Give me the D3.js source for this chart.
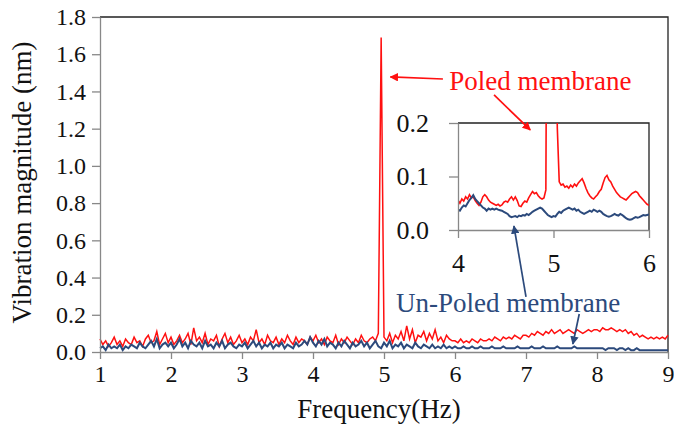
<!DOCTYPE html>
<html>
<head>
<meta charset="utf-8">
<script src="https://cdn.jsdelivr.net/npm/d3@7"></script>
<style>
  body { margin: 0; background: #fff; }
  svg text { font-family: "Liberation Serif", "Times New Roman", serif; }
</style>
</head>
<body>
<div id="chart-container"></div>
<script>
// Frequency grid of the main spectrum (Hz), 0.04 Hz steps from 1 to 9
const freqStart = 1, freqStep = 0.04;

// Poled membrane, vibration magnitude (nm), one row per Hz
const poled = [
  0.07,0.04,0.06,0.03,0.05,0.08,0.04,0.06,0.03,0.07,0.05,0.04,0.08,0.05,0.06,0.03,0.07,0.09,0.05,0.06,0.11,0.04,0.07,0.10,0.05,
  0.08,0.04,0.06,0.09,0.05,0.07,0.10,0.04,0.13,0.06,0.08,0.05,0.10,0.04,0.07,0.06,0.09,0.03,0.07,0.10,0.05,0.08,0.04,0.06,0.09,
  0.05,0.07,0.04,0.08,0.06,0.12,0.05,0.07,0.04,0.09,0.06,0.05,0.08,0.04,0.07,0.05,0.09,0.06,0.04,0.08,0.05,0.07,0.06,0.04,0.08,
  0.06,0.09,0.05,0.07,0.04,0.08,0.06,0.05,0.09,0.04,0.07,0.05,0.08,0.06,0.04,0.07,0.05,0.09,0.06,0.05,0.07,0.08,0.06,0.10,1.69,
  0.08,0.06,0.10,0.05,0.09,0.07,0.11,0.06,0.14,0.07,0.12,0.05,0.09,0.08,0.11,0.06,0.10,0.07,0.12,0.06,0.08,0.05,0.09,0.07,0.06,
  0.06,0.05,0.07,0.05,0.06,0.05,0.07,0.06,0.05,0.07,0.06,0.06,0.07,0.06,0.08,0.07,0.06,0.08,0.07,0.08,0.07,0.09,0.08,0.07,0.09,
  0.09,0.08,0.10,0.09,0.11,0.10,0.09,0.11,0.10,0.12,0.10,0.11,0.12,0.10,0.11,0.12,0.11,0.10,0.12,0.11,0.10,0.11,0.12,0.11,0.12,
  0.12,0.11,0.13,0.12,0.12,0.13,0.12,0.11,0.12,0.11,0.12,0.10,0.11,0.09,0.10,0.08,0.09,0.08,0.07,0.08,0.07,0.08,0.07,0.08,0.07,
  0.09
];

// Un-poled membrane, vibration magnitude (nm)
const unpoled = [
  0.02,0.03,0.01,0.04,0.02,0.03,0.02,0.04,0.01,0.03,0.02,0.04,0.03,0.02,0.05,0.03,0.02,0.04,0.06,0.03,0.07,0.02,0.04,0.05,0.03,
  0.05,0.02,0.04,0.07,0.03,0.05,0.02,0.06,0.04,0.03,0.05,0.02,0.06,0.03,0.04,0.02,0.05,0.03,0.06,0.02,0.04,0.05,0.03,0.02,0.04,
  0.03,0.05,0.02,0.04,0.06,0.03,0.05,0.02,0.04,0.03,0.05,0.02,0.04,0.03,0.05,0.02,0.04,0.03,0.02,0.05,0.03,0.04,0.06,0.04,0.08,
  0.05,0.03,0.06,0.04,0.07,0.03,0.05,0.04,0.02,0.05,0.03,0.06,0.04,0.02,0.05,0.03,0.04,0.06,0.03,0.05,0.02,0.04,0.06,0.03,0.02,
  0.05,0.03,0.06,0.02,0.04,0.03,0.05,0.02,0.04,0.03,0.02,0.05,0.03,0.02,0.04,0.03,0.02,0.04,0.02,0.03,0.02,0.04,0.02,0.03,0.02,
  0.03,0.02,0.02,0.03,0.02,0.02,0.03,0.02,0.02,0.03,0.02,0.02,0.02,0.03,0.02,0.02,0.02,0.03,0.02,0.02,0.02,0.02,0.03,0.02,0.02,
  0.02,0.02,0.03,0.02,0.02,0.02,0.03,0.02,0.02,0.02,0.02,0.03,0.02,0.02,0.02,0.02,0.02,0.03,0.02,0.02,0.02,0.02,0.02,0.02,0.02,
  0.02,0.02,0.02,0.01,0.02,0.02,0.02,0.01,0.02,0.02,0.01,0.02,0.01,0.01,0.02,0.01,0.01,0.01,0.01,0.01,0.01,0.01,0.01,0.01,0.01,
  0.01
];

// Inset: zoom on 4-6 Hz, 0.02 Hz steps
const insetStart = 4, insetStep = 0.02;
const insetPoled = [
  0.056,0.050,0.058,0.054,0.062,0.058,0.066,0.060,0.062,0.055,
  0.050,0.046,0.052,0.062,0.066,0.062,0.056,0.052,0.050,0.048,
  0.046,0.048,0.045,0.047,0.052,0.054,0.052,0.058,0.062,0.056,
  0.062,0.055,0.045,0.044,0.050,0.054,0.052,0.060,0.066,0.072,
  0.068,0.070,0.064,0.060,0.058,0.060,0.075,0.900,1.690,1.400,
  0.950,0.450,0.190,0.090,0.084,0.086,0.080,0.082,0.078,0.084,
  0.080,0.086,0.082,0.088,0.092,0.096,0.088,0.078,0.070,0.064,
  0.060,0.058,0.062,0.066,0.072,0.076,0.088,0.098,0.102,0.094,
  0.090,0.082,0.076,0.070,0.066,0.062,0.060,0.058,0.056,0.060,
  0.064,0.068,0.070,0.072,0.070,0.064,0.060,0.056,0.052,0.048,
  0.046
];
const insetUnpoled = [
  0.038,0.036,0.042,0.046,0.044,0.050,0.056,0.060,0.065,0.058,
  0.054,0.050,0.046,0.042,0.040,0.036,0.040,0.038,0.040,0.038,
  0.040,0.038,0.037,0.036,0.034,0.032,0.030,0.026,0.024,0.025,
  0.026,0.024,0.027,0.026,0.028,0.027,0.030,0.028,0.031,0.034,
  0.036,0.038,0.040,0.042,0.040,0.036,0.032,0.028,0.026,0.024,
  0.026,0.025,0.030,0.034,0.032,0.036,0.038,0.040,0.042,0.040,
  0.038,0.040,0.036,0.038,0.034,0.032,0.030,0.032,0.034,0.036,
  0.034,0.038,0.036,0.034,0.036,0.034,0.030,0.028,0.026,0.025,
  0.026,0.028,0.030,0.028,0.027,0.030,0.028,0.025,0.022,0.020,
  0.019,0.020,0.022,0.024,0.023,0.024,0.026,0.028,0.027,0.028,
  0.029
];

// Tick values
const xTicks = [1, 2, 3, 4, 5, 6, 7, 8, 9];
const yTicks = [0, 0.2, 0.4, 0.6, 0.8, 1.0, 1.2, 1.4, 1.6, 1.8];
const insetXTicks = [4, 5, 6];
const insetYTicks = [0, 0.1, 0.2];

const colors = { poled: "#ff1010", unpoled: "#2c4a7c" };

const drawChart = () => {
    const width = 674, height = 430;
    const margin = { top: 17, right: 6, bottom: 78, left: 100 };

    const svg = d3.select('#chart-container')
        .append('svg')
        .attr('width', width)
        .attr('height', height);

    // Main scales
    const x = d3.scaleLinear().domain([1, 9]).range([margin.left, width - margin.right]);
    const y = d3.scaleLinear().domain([0, 1.8]).range([height - margin.bottom, margin.top]);

    const toPoints = (vals, start, step) => vals.map((v, i) => [start + i * step, v]);

    // frame: top and right borders
    svg.append('path')
        .attr('d', `M${x(1)},${y(1.8)}H${x(9)}V${y(0)}`)
        .attr('fill', 'none')
        .attr('stroke', '#222')
        .attr('stroke-width', 1.3);

    // curves
    const line = d3.line().x(d => x(d[0])).y(d => y(d[1]));
    svg.append('path')
        .datum(toPoints(poled, freqStart, freqStep))
        .attr('fill', 'none')
        .attr('stroke', colors.poled)
        .attr('stroke-width', 1.5)
        .attr('d', line);
    svg.append('path')
        .datum(toPoints(unpoled, freqStart, freqStep))
        .attr('fill', 'none')
        .attr('stroke', colors.unpoled)
        .attr('stroke-width', 2)
        .attr('d', line);

    // axes
    const styleAxis = g => {
        g.selectAll('.domain').attr('stroke', '#888').attr('stroke-width', 1.3);
        g.selectAll('.tick line').attr('stroke', '#888').attr('stroke-width', 1.3);
        g.selectAll('text').attr('fill', '#111').attr('font-family', '"Liberation Serif", serif');
    };

    svg.append('g')
        .attr('transform', `translate(0,${y(0)})`)
        .call(d3.axisBottom(x).tickValues(xTicks).tickFormat(d3.format('d')).tickSizeInner(7).tickSizeOuter(0).tickPadding(6))
        .call(styleAxis)
        .selectAll('text').attr('font-size', 24);

    svg.append('g')
        .attr('transform', `translate(${x(1)},0)`)
        .call(d3.axisLeft(y).tickValues(yTicks).tickFormat(d3.format('.1f')).tickSizeInner(8).tickSizeOuter(0).tickPadding(6))
        .call(styleAxis)
        .selectAll('text').attr('font-size', 24);

    // axis titles
    svg.append('text')
        .attr('x', (x(1) + x(9)) / 2 - 5)
        .attr('y', 418)
        .attr('text-anchor', 'middle')
        .attr('font-size', 27)
        .attr('fill', '#111')
        .text('Frequency(Hz)');

    svg.append('text')
        .attr('transform', `translate(31,${(y(0) + y(1.8)) / 2 - 2}) rotate(-90)`)
        .attr('text-anchor', 'middle')
        .attr('font-size', 27)
        .attr('fill', '#111')
        .text('Vibration magnitude (nm)');

    // Inset
    const ix = d3.scaleLinear().domain([4, 6]).range([458, 649]);
    const iy = d3.scaleLinear().domain([0, 0.2]).range([230, 123]);

    svg.append('clipPath').attr('id', 'inset-clip')
        .append('rect')
        .attr('x', ix(4)).attr('y', iy(0.2))
        .attr('width', ix(6) - ix(4)).attr('height', iy(0) - iy(0.2));

    svg.append('path')
        .attr('d', `M${ix(4)},${iy(0.2)}H${ix(6)}V${iy(0)}`)
        .attr('fill', 'none')
        .attr('stroke', '#222')
        .attr('stroke-width', 1.3);

    const iline = d3.line().x(d => ix(d[0])).y(d => iy(d[1]));
    const insetG = svg.append('g').attr('clip-path', 'url(#inset-clip)');
    insetG.append('path')
        .datum(toPoints(insetPoled, insetStart, insetStep))
        .attr('fill', 'none')
        .attr('stroke', colors.poled)
        .attr('stroke-width', 1.6)
        .attr('d', iline);
    insetG.append('path')
        .datum(toPoints(insetUnpoled, insetStart, insetStep))
        .attr('fill', 'none')
        .attr('stroke', colors.unpoled)
        .attr('stroke-width', 2)
        .attr('d', iline);

    svg.append('g')
        .attr('transform', `translate(0,${iy(0)})`)
        .call(d3.axisBottom(ix).tickValues(insetXTicks).tickFormat(d3.format('d')).tickSizeInner(8).tickSizeOuter(0).tickPadding(16))
        .call(styleAxis)
        .selectAll('text').attr('font-size', 26);

    svg.append('g')
        .attr('transform', `translate(${ix(4)},0)`)
        .call(d3.axisLeft(iy).tickValues(insetYTicks).tickFormat(d3.format('.1f')).tickSizeInner(9).tickSizeOuter(0).tickPadding(20))
        .call(styleAxis)
        .selectAll('text').attr('font-size', 26);

    // Annotations (in main data coordinates)
    const defs = svg.append('defs');
    [['head-red', colors.poled], ['head-blue', colors.unpoled]].forEach(([id, c]) => {
        defs.append('marker')
            .attr('id', id)
            .attr('viewBox', '0 0 10 10')
            .attr('refX', 9).attr('refY', 5)
            .attr('markerWidth', 5).attr('markerHeight', 5)
            .attr('markerUnits', 'strokeWidth')
            .attr('orient', 'auto')
            .append('path').attr('d', 'M0,0L10,5L0,10z').attr('fill', c);
    });

    const arrows = [
        { from: [5.83, 1.467], to: [5.09, 1.478], c: colors.poled, m: 'head-red', w: 1.7 },
        { from: [6.55, 1.381], to: [7.06, 1.193], c: colors.poled, m: 'head-red', w: 1.7 },
        { from: [7.00, 0.296], to: [6.83, 0.677], c: colors.unpoled, m: 'head-blue', w: 1.7 },
        { from: [7.75, 0.204], to: [7.66, 0.043], c: colors.unpoled, m: 'head-blue', w: 1.7 },
    ];
    svg.append('g').selectAll('line')
        .data(arrows)
        .join('line')
        .attr('x1', d => x(d.from[0])).attr('y1', d => y(d.from[1]))
        .attr('x2', d => x(d.to[0])).attr('y2', d => y(d.to[1]))
        .attr('stroke', d => d.c)
        .attr('stroke-width', d => d.w)
        .attr('marker-end', d => `url(#${d.m})`);

    svg.append('text')
        .attr('x', x(5.92)).attr('y', y(1.408))
        .attr('font-size', 27)
        .attr('fill', colors.poled)
        .text('Poled membrane');

    svg.append('text')
        .attr('x', x(5.17)).attr('y', y(0.215))
        .attr('font-size', 27)
        .attr('fill', colors.unpoled)
        .text('Un-Poled membrane');
};

drawChart();
</script>
</body>
</html>
